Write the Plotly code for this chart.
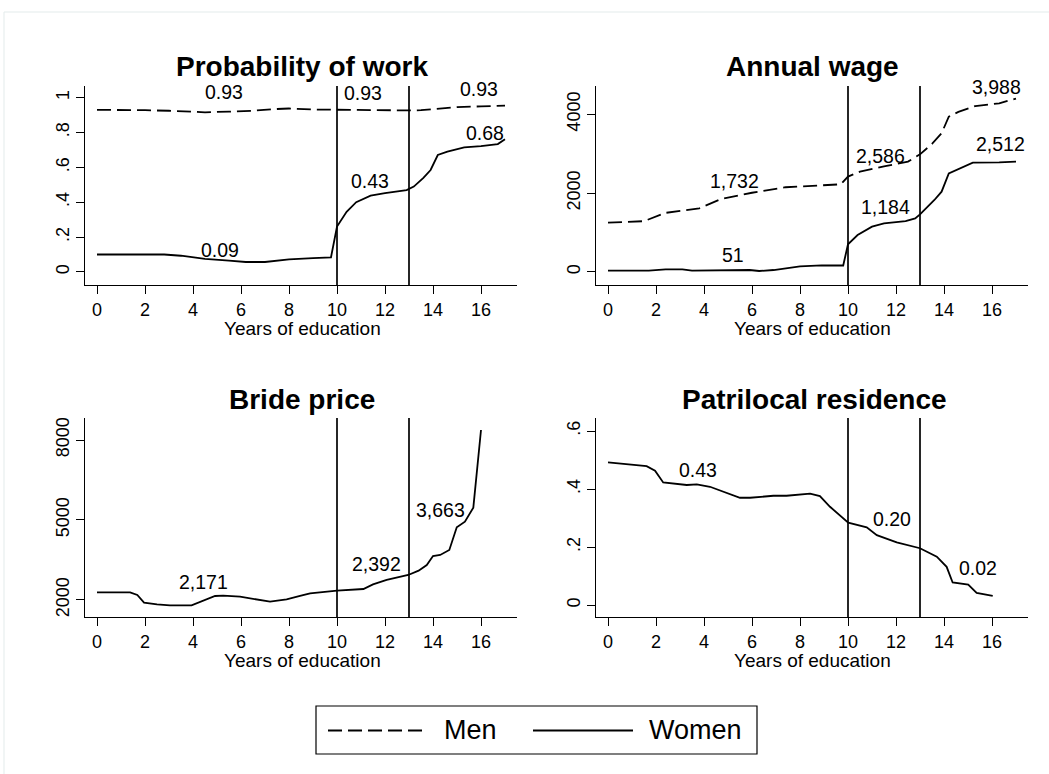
import plotly.graph_objects as go

W, H = 1049, 774
FONT = "Liberation Sans, Arial, Helvetica, sans-serif"

# ---------------- data ----------------
years_ticks = [0, 2, 4, 6, 8, 10, 12, 14, 16]
cutoffs = [10, 13]

# Probability of work
pw_men_x = [0, 1, 2, 3, 4, 4.5, 5.5, 6.5, 7.5, 8, 9, 10, 11, 12, 13, 13.5, 14, 15, 16, 17]
pw_men_y = [0.930, 0.930, 0.928, 0.925, 0.918, 0.916, 0.920, 0.925, 0.935, 0.938, 0.932,
            0.930, 0.928, 0.926, 0.927, 0.928, 0.935, 0.946, 0.950, 0.954]
pw_women_x = [0, 1, 2, 2.8, 3.5, 4.5, 5.5, 6.2, 7, 8, 9, 9.75, 10, 10.4, 10.8, 11.4, 12,
              12.9, 13.2, 13.6, 13.9, 14.2, 14.6, 15.3, 16, 16.7, 17]
pw_women_y = [0.100, 0.100, 0.100, 0.100, 0.093, 0.075, 0.065, 0.057, 0.057, 0.072, 0.079,
              0.084, 0.26, 0.345, 0.40, 0.438, 0.452, 0.47, 0.49, 0.54, 0.585, 0.671, 0.69,
              0.715, 0.722, 0.734, 0.761]
pw_labels = ["0.93", "0.93", "0.93", "0.68", "0.43", "0.09"]
pw_label_x = [5.29, 11.1, 15.93, 16.15, 11.36, 5.11]
pw_label_y = [1.034, 1.029, 1.050, 0.799, 0.522, 0.124]

# Annual wage
aw_men_x = [0, 1.5, 2.4, 3.8, 4.7, 6, 7.4, 8.5, 9.7, 10, 10.5, 11.5, 12.5, 13, 13.5, 13.9,
            14.2, 14.6, 15.3, 16.3, 17]
aw_men_y = [1250, 1290, 1500, 1615, 1850, 2010, 2150, 2190, 2225, 2420, 2545, 2680, 2800,
            2985, 3250, 3520, 3940, 4060, 4210, 4280, 4400]
aw_women_x = [0, 1.7, 2.4, 3.1, 3.5, 5.9, 6.3, 6.9, 8, 8.9, 9.8, 10, 10.4, 11, 11.5, 12.4,
              12.8, 13, 13.6, 13.9, 14.2, 15.2, 16.3, 17]
aw_women_y = [34, 34, 68, 68, 34, 50, 25, 50, 144, 169, 165, 702, 938, 1149, 1234, 1293,
              1361, 1463, 1826, 2037, 2503, 2772, 2780, 2798]
aw_labels = ["1,732", "51", "2,586", "1,184", "3,988", "2,512"]
aw_label_x = [5.29, 5.21, 11.35, 11.57, 16.2, 16.36]
aw_label_y = [2316, 431, 2942, 1657, 4700, 3239]

# Bride price
bp_x = [0, 1.38, 1.68, 1.96, 2.5, 3.04, 3.94, 4.43, 4.92, 5.26, 5.96, 7.21, 7.9, 8.46, 8.88,
        10, 10.4, 11.1, 11.5, 12.07, 12.97, 13.4, 13.74, 14, 14.3, 14.68, 14.99, 15.33,
        15.68, 16]
bp_y = [2287, 2287, 2187, 1900, 1837, 1800, 1800, 1975, 2150, 2162, 2125, 1937, 2025, 2150,
        2250, 2350, 2375, 2412, 2587, 2750, 2937, 3100, 3312, 3650, 3687, 3875, 4725, 4937,
        5462, 8375]
bp_labels = ["2,171", "2,392", "3,663"]
bp_label_x = [4.45, 11.65, 14.3]
bp_label_y = [2662, 3337, 5362]

# Patrilocal residence
pr_x = [0, 0.99, 1.61, 1.96, 2.3, 3.28, 3.7, 4.25, 4.94, 5.5, 5.92, 6.89, 7.44, 8.42, 8.83,
        9.25, 10.01, 10.78, 11.2, 12.03, 13, 13.7, 14.11, 14.36, 15.01, 15.36, 16.03]
pr_y = [0.492, 0.485, 0.479, 0.463, 0.423, 0.414, 0.416, 0.408, 0.387, 0.370, 0.370, 0.377,
        0.377, 0.384, 0.376, 0.339, 0.284, 0.268, 0.241, 0.216, 0.196, 0.167, 0.132, 0.078,
        0.071, 0.042, 0.032]
pr_labels = ["0.43", "0.20", "0.02"]
pr_label_x = [3.76, 11.83, 15.43]
pr_label_y = [0.4655, 0.2955, 0.1266]

titles = ["Probability of work", "Annual wage", "Bride price", "Patrilocal residence"]
x_title = "Years of education"

pw_ticks = [0, 0.2, 0.4, 0.6, 0.8, 1]
pw_ticktext = ["0", ".2", ".4", ".6", ".8", "1"]
aw_ticks = [0, 2000, 4000]
bp_ticks = [2000, 5000, 8000]
pr_ticks = [0, 0.2, 0.4, 0.6]
pr_ticktext = ["0", ".2", ".4", ".6"]

# ---------------- layout helpers ----------------
def px_x(p):
    return p / W

def px_y(p):
    return 1 - p / H

# panel pixel boxes: (left, right, top, bottom)
boxes = [(85, 517, 86, 285), (596, 1028, 86, 285), (85, 517, 418, 617), (596, 1028, 418, 617)]
yranges = [[-0.075, 1.067], [-330, 4718], [1362, 8825], [-0.041, 0.645]]
xrange_ = [-0.5, 17.5]

DASH = "14px,6px"
LW = 1.8

fig = go.Figure()

def add_line(x, y, ax, dash):
    fig.add_trace(go.Scatter(x=x, y=y, mode="lines", xaxis="x" + ax, yaxis="y" + ax,
                             line=dict(color="black", width=LW, dash=dash),
                             showlegend=False, hoverinfo="skip"))

add_line(pw_men_x, pw_men_y, "", DASH)
add_line(pw_women_x, pw_women_y, "", "solid")
add_line(aw_men_x, aw_men_y, "2", DASH)
add_line(aw_women_x, aw_women_y, "2", "solid")
add_line(bp_x, bp_y, "3", "solid")
add_line(pr_x, pr_y, "4", "solid")

axis_font = dict(family=FONT, size=18, color="black")
layout = dict(width=W, height=H, margin=dict(l=0, r=0, t=0, b=0),
              paper_bgcolor="white", plot_bgcolor="white",
              font=dict(family=FONT, color="black"), showlegend=False)

ytick_specs = [(pw_ticks, pw_ticktext), (aw_ticks, [str(v) for v in aw_ticks]),
               (bp_ticks, [str(v) for v in bp_ticks]), (pr_ticks, pr_ticktext)]

for i, (l, r, t, b) in enumerate(boxes):
    sfx = "" if i == 0 else str(i + 1)
    layout["xaxis" + sfx] = dict(domain=[px_x(l), px_x(r)], anchor="y" + sfx,
                                 range=xrange_, tickvals=years_ticks, ticks="outside",
                                 ticklen=8, tickwidth=1.2, tickcolor="black",
                                 showline=True, linecolor="black", linewidth=1.3,
                                 showgrid=False, zeroline=False, tickfont=axis_font,
                                 fixedrange=True)
    tv, tt = ytick_specs[i]
    layout["yaxis" + sfx] = dict(domain=[px_y(b), px_y(t)], anchor="x" + sfx,
                                 range=yranges[i], tickvals=tv, ticktext=tt,
                                 ticks="outside", ticklen=8, tickwidth=1.2,
                                 tickcolor="black", showline=True, linecolor="black",
                                 linewidth=1.3, showgrid=False, zeroline=False,
                                 tickfont=axis_font, tickangle=-90, fixedrange=True)

fig.update_layout(**layout)

shapes = []
# faint outer graph-region frame
shapes.append(dict(type="rect", xref="paper", yref="paper", x0=px_x(4), x1=px_x(1070),
                   y0=px_y(800), y1=px_y(12), line=dict(color="#e3ebeb", width=1)))
for i in range(4):
    sfx = "" if i == 0 else str(i + 1)
    for c in cutoffs:
        shapes.append(dict(type="line", xref="x" + sfx, yref="y" + sfx + " domain",
                           x0=c, x1=c, y0=0, y1=1, line=dict(color="black", width=1.7)))

annotations = []
title_pos = [(302, 66), (812, 66), (302, 400), (814, 400)]
for txt, (cx, cy) in zip(titles, title_pos):
    annotations.append(dict(text="<b>" + txt + "</b>", xref="paper", yref="paper",
                            x=px_x(cx), y=px_y(cy), xanchor="center", yanchor="middle",
                            showarrow=False, font=dict(family=FONT, size=28, color="black")))
for cx, cy in [(302, 328), (812, 328), (302, 660), (812, 660)]:
    annotations.append(dict(text=x_title, xref="paper", yref="paper",
                            x=px_x(cx), y=px_y(cy), xanchor="center", yanchor="middle",
                            showarrow=False, font=dict(family=FONT, size=19, color="black")))

def add_labels(labels, lx, ly, sfx):
    for txt, x, y in zip(labels, lx, ly):
        annotations.append(dict(text=txt, xref="x" + sfx, yref="y" + sfx, x=x, y=y,
                                xanchor="center", yanchor="middle", showarrow=False,
                                font=dict(family=FONT, size=19.5, color="black")))

add_labels(pw_labels, pw_label_x, pw_label_y, "")
add_labels(aw_labels, aw_label_x, aw_label_y, "2")
add_labels(bp_labels, bp_label_x, bp_label_y, "3")
add_labels(pr_labels, pr_label_x, pr_label_y, "4")

# legend (drawn manually, Stata style)
shapes.append(dict(type="rect", xref="paper", yref="paper", x0=px_x(316), x1=px_x(757),
                   y0=px_y(754), y1=px_y(706), line=dict(color="black", width=1.2)))
shapes.append(dict(type="line", xref="paper", yref="paper", x0=px_x(328), x1=px_x(428),
                   y0=px_y(730.5), y1=px_y(730.5),
                   line=dict(color="black", width=LW, dash=DASH)))
shapes.append(dict(type="line", xref="paper", yref="paper", x0=px_x(533), x1=px_x(633),
                   y0=px_y(730.5), y1=px_y(730.5), line=dict(color="black", width=LW)))
for txt, cx in [("Men", 470), ("Women", 695)]:
    annotations.append(dict(text=txt, xref="paper", yref="paper", x=px_x(cx),
                            y=px_y(730), xanchor="center", yanchor="middle",
                            showarrow=False, font=dict(family=FONT, size=27, color="black")))

fig.update_layout(shapes=shapes, annotations=annotations)

fig.write_html("out.html", config={"displayModeBar": False},
               post_script="document.body.style.margin='0';")
